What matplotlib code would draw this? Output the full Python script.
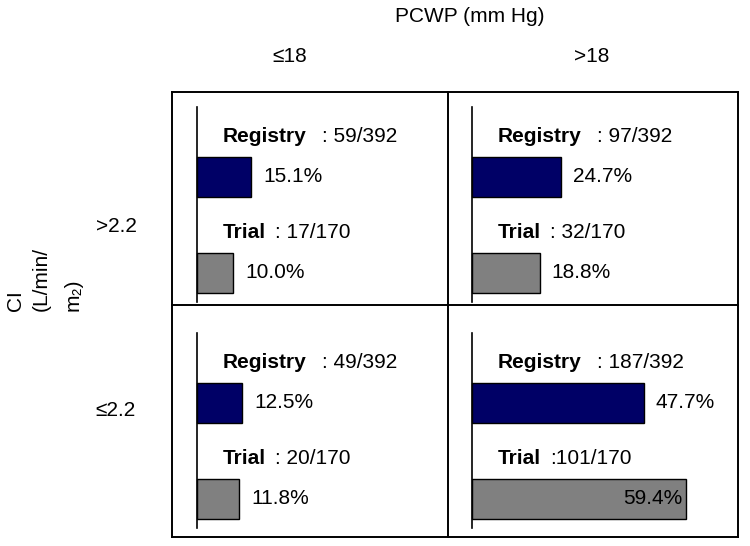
import matplotlib
matplotlib.use("Agg")
import matplotlib.pyplot as plt
from matplotlib.lines import Line2D

plt.rcParams['font.family'] = ['Liberation Sans', 'DejaVu Sans']

# ---- data ----
col_labels = ["≤18", ">18"]
row_labels = [">2.2", "≤2.2"]
registry_n = [[59, 97], [49, 187]]
registry_total = 392
registry_pct = [[15.1, 24.7], [12.5, 47.7]]
trial_n = [[17, 32], [20, 101]]
trial_total = 170
trial_pct = [[10.0, 18.8], [11.8, 59.4]]

W, H = 750, 546
fig = plt.figure(figsize=(W / 100, H / 100), dpi=100)

def fx(x):
    return x / W

def fy(y):
    return 1 - y / H

FS = 15
# outer grid
box_l, box_r, box_t, box_b = 172, 738, 92, 537
mid_x, mid_y = 448, 305
lw = 1.4
for (x0, y0, x1, y1) in [(box_l, box_t, box_r, box_t), (box_l, box_b, box_r, box_b),
                         (box_l, box_t, box_l, box_b), (box_r, box_t, box_r, box_b),
                         (mid_x, box_t, mid_x, box_b), (box_l, mid_y, box_r, mid_y)]:
    fig.add_artist(Line2D([fx(x0), fx(x1)], [fy(y0), fy(y1)], color='black', lw=lw,
                          solid_capstyle='projecting'))

# header texts
fig.text(fx(470), fy(17), "PCWP (mm Hg)", ha='center', va='center', fontsize=FS)
fig.text(fx(290), fy(57), col_labels[0], ha='center', va='center', fontsize=FS)
fig.text(fx(592), fy(57), col_labels[1], ha='center', va='center', fontsize=FS)
fig.text(fx(116), fy(226), row_labels[0], ha='center', va='center', fontsize=FS)
fig.text(fx(116), fy(411), row_labels[1], ha='center', va='center', fontsize=FS)
# rotated CI label (three lines, bottom aligned)
fig.text(fx(15), fy(311), "CI", rotation=90, ha='center', va='bottom', fontsize=FS)
fig.text(fx(41), fy(311), "(L/min/", rotation=90, ha='center', va='bottom', fontsize=FS)
fig.text(fx(73), fy(311), "m₂)", rotation=90, ha='center', va='bottom', fontsize=FS)

scale = 3.6  # px per percent
axis_x = [197, 472]
axis_top = [107, 333]
axis_h = 195
cell_right = [448, 738]
navy = '#000066'
gray = '#808080'

for r in range(2):
    for c in range(2):
        x0 = axis_x[c]
        wpx = cell_right[c] - 4 - x0
        ax = fig.add_axes([fx(x0), fy(axis_top[r] + axis_h), wpx / W, axis_h / H])
        ax.set_xlim(0, wpx / scale)
        ax.set_ylim(axis_h, 0)
        for s in ['top', 'right', 'bottom']:
            ax.spines[s].set_visible(False)
        ax.spines['left'].set_linewidth(1.2)
        ax.set_xticks([])
        ax.set_yticks([])
        ax.patch.set_alpha(0)
        # bars
        y_reg, y_tri = 70, 166
        ax.barh([y_reg], [registry_pct[r][c]], height=40, left=0, color=navy,
                edgecolor='black', linewidth=1.0, clip_on=False)
        ax.barh([y_tri], [trial_pct[r][c]], height=40, left=0, color=gray,
                edgecolor='black', linewidth=1.0, clip_on=False)
        off = 12 / scale
        # percentage labels
        ax.text(registry_pct[r][c] + off, y_reg, f"{registry_pct[r][c]:.1f}%",
                ha='left', va='center', fontsize=FS)
        tp = trial_pct[r][c]
        if tp > 40:
            ax.text(tp - 3 / scale, y_tri, f"{tp:.1f}%", ha='right', va='center', fontsize=FS)
        else:
            ax.text(tp + off, y_tri, f"{tp:.1f}%", ha='left', va='center', fontsize=FS)
        # group labels
        lx = 26 / scale
        ax.text(lx, 29, "Registry", ha='left', va='center', fontsize=FS, fontweight='bold')
        ax.text(125 / scale, 29, f": {registry_n[r][c]}/{registry_total}",
                ha='left', va='center', fontsize=FS)
        ax.text(lx, 126, "Trial", ha='left', va='center', fontsize=FS, fontweight='bold')
        sep = ":" if trial_n[r][c] >= 100 else ": "
        ax.text(78 / scale, 126, f"{sep}{trial_n[r][c]}/{trial_total}",
                ha='left', va='center', fontsize=FS)

fig.savefig("out.png", dpi=100)
